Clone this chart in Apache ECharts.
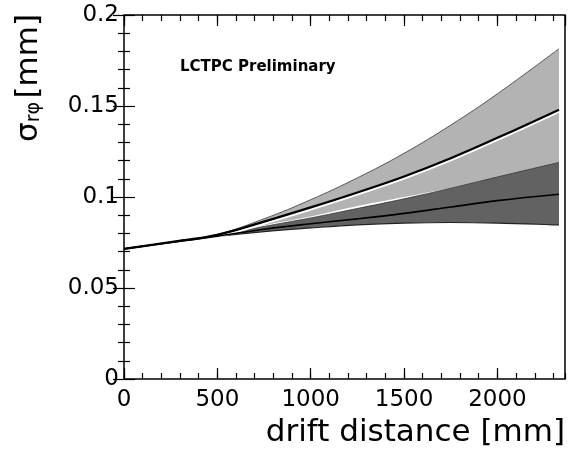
<!DOCTYPE html>
<html>
<head>
<meta charset="utf-8">
<script src="https://cdn.jsdelivr.net/npm/echarts@6/dist/echarts.min.js"></script>
<style>
  html, body { margin: 0; padding: 0; background: #fff; }
  #chart { width: 577px; height: 459px; }
</style>
</head>
<body>
<div id="chart"></div>
<script>
// drift distance [mm]
const driftX = [0, 250, 500, 750, 1000, 1250, 1500, 1750, 2000, 2330];
// fit with electron loss: band top, central fit, band bottom
const lossTop = [0.0715, 0.0753, 0.0795, 0.0880, 0.0985, 0.1105, 0.1240, 0.1395, 0.1567, 0.1815];
const lossMid = [0.0715, 0.0752, 0.0792, 0.0865, 0.0943, 0.1025, 0.1113, 0.1213, 0.1325, 0.1480];
const lossLow = [0.0715, 0.0751, 0.0789, 0.0845, 0.0893, 0.0950, 0.1000, 0.1050, 0.1100, 0.1150];
// fit with electron loss removed: band top, central fit, band bottom
const remTop = [0.0715, 0.0751, 0.0787, 0.0838, 0.0885, 0.0937, 0.0990, 0.1048, 0.1110, 0.1190];
const remMid = [0.0715, 0.0750, 0.0785, 0.0823, 0.0853, 0.0880, 0.0910, 0.0945, 0.0980, 0.1015];
const remLow = [0.0715, 0.0749, 0.0783, 0.0810, 0.0830, 0.0847, 0.0857, 0.0860, 0.0857, 0.0846];

const xTicksMajor = 500;
const xTicksMinor = 100;

const lightGray = "#b3b3b3";
const darkGray = "#626262";
const font = "DejaVu Sans, sans-serif";

function pairs(ys) {
  return driftX.map((x, i) => [x, ys[i]]);
}

const chart = echarts.init(document.getElementById("chart"));

const tickStyle = { color: "#000", width: 1.2 };
const baseX = {
  type: "value",
  min: 0,
  max: 2362,
  z: 10,
  axisLine: { show: false },
  splitLine: { show: false },
  axisLabel: { show: false },
};
const baseY = {
  type: "value",
  min: 0,
  max: 0.2,
  interval: 0.05,
  z: 10,
  axisLine: { show: false },
  splitLine: { show: false },
  axisTick: { inside: true, length: 11, lineStyle: tickStyle },
  minorTick: { show: true, splitNumber: 5, length: 6, lineStyle: tickStyle },
};

// band areas are layered: fill under the top edge, then cover under the bottom edge with white
function area(name, ys, fill, line) {
  return {
    name: name,
    type: "line",
    smooth: 0.4,
    symbol: "none",
    lineStyle: line,
    areaStyle: { color: fill, opacity: 1, origin: "start" },
    data: pairs(ys),
  };
}

chart.setOption({
  animation: false,
  grid: {
    left: 124,
    right: 12,
    top: 15,
    bottom: 80,
    show: true,
    z: 10,
    backgroundColor: "transparent",
    borderColor: "#000",
    borderWidth: 1.5,
  },
  xAxis: [
    {
      ...baseX,
      position: "bottom",
      interval: xTicksMajor,
      axisTick: { inside: true, length: 11, lineStyle: tickStyle },
      axisLabel: {
        show: true,
        showMaxLabel: false,
        color: "#000",
        fontSize: 23,
        fontFamily: font,
        margin: 10,
        formatter: (v) => String(v),
      },
    },
    {
      ...baseX,
      position: "bottom",
      interval: xTicksMinor,
      axisTick: { inside: true, length: 6, lineStyle: tickStyle },
    },
    {
      ...baseX,
      position: "top",
      interval: xTicksMajor,
      axisTick: { inside: true, length: 11, lineStyle: tickStyle },
    },
    {
      ...baseX,
      position: "top",
      interval: xTicksMinor,
      axisTick: { inside: true, length: 6, lineStyle: tickStyle },
    },
  ],
  yAxis: [
    {
      ...baseY,
      position: "left",
      axisLabel: { color: "#000", fontSize: 23, fontFamily: font, margin: 5 },
    },
    {
      ...baseY,
      position: "right",
      axisLabel: { show: false },
    },
  ],
  series: [
    area("lossTop", lossTop, lightGray, { width: 1, color: "#555" }),
    area("lossLow", lossLow, "#fff", { width: 0 }),
    area("remTop", remTop, darkGray, { width: 0.8, color: "#333" }),
    area("remLow", remLow, "#fff", { width: 1.2, color: "#222" }),
    {
      name: "fit with electron loss",
      type: "line",
      smooth: 0.4,
      symbol: "none",
      lineStyle: {
        width: 2.2,
        color: "#000",
        shadowColor: "#fff",
        shadowBlur: 0,
        shadowOffsetY: 2,
      },
      data: pairs(lossMid),
    },
    {
      name: "fit with electron loss removed",
      type: "line",
      smooth: 0.4,
      symbol: "none",
      lineStyle: { width: 1.6, color: "#000" },
      data: pairs(remMid),
    },
  ],
  graphic: [
    {
      type: "text",
      left: 180,
      top: 60,
      style: { text: "LCTPC Preliminary", font: "bold 15px " + font, fill: "#000" },
    },
    // legend boxes
    {
      type: "rect",
      shape: { x: 220, y: 255, width: 50, height: 43 },
      style: { fill: lightGray, stroke: "#777", lineWidth: 0.8 },
    },
    {
      type: "line",
      shape: { x1: 220, y1: 276, x2: 270, y2: 276 },
      style: { stroke: "#000", lineWidth: 2.2, shadowColor: "#fff", shadowOffsetY: 2 },
    },
    {
      type: "text",
      left: 282,
      top: 275,
      style: { text: "fit with electron loss", font: "bold 14px " + font, fill: "#000" },
    },
    {
      type: "rect",
      shape: { x: 220, y: 317, width: 50, height: 43 },
      style: { fill: darkGray, stroke: "#000", lineWidth: 1.8 },
    },
    {
      type: "line",
      shape: { x1: 220, y1: 338, x2: 270, y2: 338 },
      style: { stroke: "#000", lineWidth: 1.6, shadowColor: "#bbb", shadowOffsetY: 1.5 },
    },
    {
      type: "text",
      left: 282,
      top: 336,
      style: { text: "fit with electron loss removed", font: "bold 14px " + font, fill: "#000" },
    },
    // axis titles
    {
      type: "text",
      right: 12,
      top: 417,
      style: { text: "drift distance [mm]", font: "31px " + font, fill: "#000" },
    },
    {
      type: "text",
      left: 13,
      top: 14,
      rotation: Math.PI / 2,
      style: {
        text: "{s|σ}{sub|rφ} {s|[mm]}",
        fill: "#000",
        rich: {
          s: { fontSize: 31, fontFamily: font, verticalAlign: "bottom" },
          sub: { fontSize: 19, fontFamily: font, padding: [12, 0, 0, 0] },
        },
      },
    },
  ],
});
</script>
</body>
</html>
